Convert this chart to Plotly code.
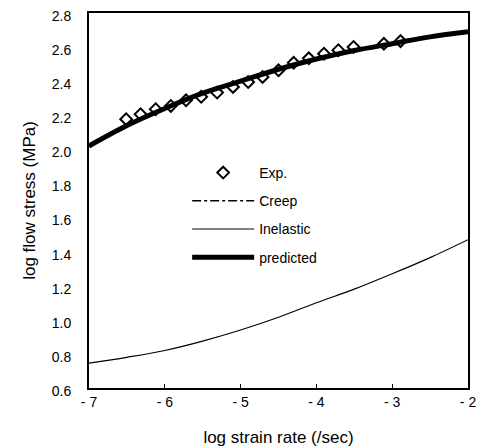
import plotly.graph_objects as go

exp_x = [-6.51, -6.32, -6.12, -5.92, -5.72, -5.52, -5.31, -5.10, -4.90, -4.71,
         -4.50, -4.30, -4.10, -3.90, -3.71, -3.51, -3.11, -2.89]
exp_y = [2.177, 2.206, 2.236, 2.255, 2.288, 2.308, 2.333, 2.366, 2.395, 2.425,
         2.464, 2.508, 2.534, 2.561, 2.582, 2.601, 2.619, 2.635]

curve_x = [-7.0, -6.5, -6.0, -5.5, -5.0, -4.5, -4.0, -3.5, -3.0, -2.5, -2.0]
predicted_y = [2.02, 2.14, 2.24, 2.33, 2.40, 2.47, 2.53, 2.58, 2.62, 2.66, 2.69]
creep_y = [2.015, 2.135, 2.235, 2.325, 2.395, 2.465, 2.525, 2.575, 2.615, 2.655, 2.685]
inelastic_y = [0.746, 0.78, 0.82, 0.875, 0.94, 1.015, 1.10, 1.18, 1.27, 1.365, 1.47]

x_tickvals = [-7, -6, -5, -4, -3, -2]
x_ticktext = ["- 7", "- 6", "- 5", "- 4", "- 3", "- 2"]
y_tickvals = [0.6, 0.8, 1.0, 1.2, 1.4, 1.6, 1.8, 2.0, 2.2, 2.4, 2.6, 2.8]
y_ticktext = ["0.6", "0.8", "1.0", "1.2", "1.4", "1.6", "1.8", "2.0", "2.2", "2.4", "2.6", "2.8"]

fig = go.Figure()
fig.add_trace(go.Scatter(x=exp_x, y=exp_y, mode="markers", name="Exp.", legendgroup="a",
                         marker=dict(symbol="diamond-open", size=9, color="black",
                                     line=dict(width=2, color="black"))))
fig.add_trace(go.Scatter(x=curve_x, y=creep_y, mode="lines", name="Creep", legendgroup="b",
                         line=dict(color="black", width=1.5, dash="dashdot", shape="spline")))
fig.add_trace(go.Scatter(x=curve_x, y=inelastic_y, mode="lines", name="Inelastic", legendgroup="c",
                         line=dict(color="black", width=1.2, shape="spline")))
fig.add_trace(go.Scatter(x=curve_x, y=predicted_y, mode="lines", name="predicted", legendgroup="d",
                         line=dict(color="black", width=5, shape="spline")))

fig.update_layout(
    width=479, height=440,
    margin=dict(l=81, r=19, t=5, b=60, autoexpand=False),
    paper_bgcolor="white", plot_bgcolor="white",
    font=dict(family="Liberation Sans, Arial, sans-serif", size=14, color="black"),
    legend=dict(x=0.259, y=0.616, xanchor="left", yanchor="top",
                bgcolor="rgba(0,0,0,0)", itemwidth=62, tracegroupgap=7,
                font=dict(size=14)),
    xaxis=dict(range=[-7, -2], tickvals=x_tickvals, ticktext=x_ticktext,
               showgrid=False, zeroline=False, showline=True, linecolor="black",
               linewidth=2, mirror=True, ticks="inside", ticklen=4, tickcolor="black",
               automargin=False, ticklabeloverflow="allow",
               title=dict(text="log strain rate (/sec)", standoff=22)),
    yaxis=dict(range=[0.6, 2.8], tickvals=y_tickvals, ticktext=y_ticktext,
               showgrid=False, zeroline=False, showline=True, linecolor="black",
               linewidth=2, mirror=True, ticks="outside", ticklen=13,
               tickcolor="rgba(0,0,0,0)", ticklabelshift=3,
               automargin=False, ticklabeloverflow="allow",
               title=dict(text="log flow stress (MPa)", standoff=12)),
    yaxis2=dict(overlaying="y", matches="y", side="left", tickvals=y_tickvals,
                ticks="inside", ticklen=4, tickcolor="black", showticklabels=False,
                showgrid=False, zeroline=False, showline=False),
)

fig.write_html("out.html")
